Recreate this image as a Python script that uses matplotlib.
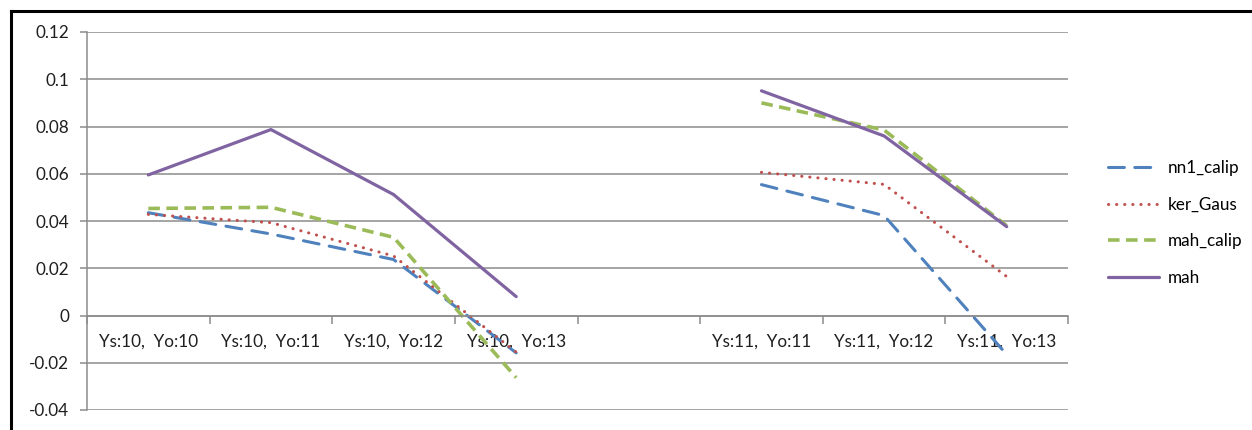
"""Line chart of calibration error per (Ys, Yo) pair for four estimators."""

import numpy as np
import matplotlib.pyplot as plt
from matplotlib.lines import Line2D

plt.rcParams['font.family'] = ['Lato', 'DejaVu Sans']

# categories along the x axis; the empty slot separates the two Ys groups
categories = ['Ys:10,  Yo:10', 'Ys:10,  Yo:11', 'Ys:10,  Yo:12', 'Ys:10,  Yo:13',
              '', 'Ys:11,  Yo:11', 'Ys:11,  Yo:12', 'Ys:11,  Yo:13']

nn1_calip = [0.0435, 0.0345, 0.0237, -0.0158, np.nan, 0.0554, 0.0423, -0.0165]
ker_gaus = [0.0428, 0.0393, 0.0252, -0.0155, np.nan, 0.0606, 0.0555, 0.0165]
mah_calip = [0.0453, 0.0458, 0.0331, -0.0263, np.nan, 0.0900, 0.0785, 0.0380]
mah = [0.0595, 0.0787, 0.0512, 0.0080, np.nan, 0.0951, 0.0760, 0.0376]

y_ticks = [-0.04, -0.02, 0, 0.02, 0.04, 0.06, 0.08, 0.1, 0.12]
y_tick_labels = ['-0.04', '-0.02', '0', '0.02', '0.04', '0.06', '0.08', '0.1', '0.12']

W, H = 1252, 430
FS = 12.3
fig = plt.figure(figsize=(W / 100, H / 100), dpi=100)

# chart border: left and top edges only, the rest runs off the image
border = dict(transform=fig.transFigure, color='black', lw=2.2,
              solid_capstyle='projecting')
fig.add_artist(Line2D([11 / W, 11 / W], [-0.02, 1 - 10.5 / H], **border))
fig.add_artist(Line2D([11 / W, 1.01], [1 - 10.5 / H, 1 - 10.5 / H], **border))

ax = fig.add_axes([87 / W, 1 - 410 / H, (1068 - 87) / W, (410 - 32) / H])

x = np.arange(len(categories))

ax.plot(x, nn1_calip, color='#4F81BD', lw=2.2, dashes=(5.2, 3.4),
        dash_capstyle='round', label='nn1_calip')
ax.plot(x, ker_gaus, color='#C0504D', lw=2.2, dashes=(0.05, 2.6),
        dash_capstyle='round', label='ker_Gaus')
ax.plot(x, mah_calip, color='#9BBB59', lw=2.6, dashes=(3.2, 1.8),
        label='mah_calip')
ax.plot(x, mah, color='#8064A2', lw=2.3, solid_capstyle='round', label='mah')

ax.set_xlim(-0.5, len(categories) - 0.5)
ax.set_ylim(-0.04, 0.12)

ax.set_yticks(y_ticks)
ax.set_yticklabels(y_tick_labels)
ax.yaxis.grid(True, color='#8c8c8c', lw=1.1)
ax.set_axisbelow(True)

# category labels sit at centers; tick marks sit on the boundaries
ax.set_xticks(x)
ax.set_xticklabels(categories)
ax.set_xticks(np.arange(len(categories) + 1) - 0.5, minor=True)
ax.tick_params(axis='x', which='major', length=0, pad=13, labelsize=FS,
               labelcolor='#1f1f1f')
ax.tick_params(axis='x', which='minor', length=6, width=1.1, color='#8c8c8c',
               direction='out')
ax.tick_params(axis='y', length=5, width=1.1, color='#8c8c8c', pad=8,
               labelsize=FS, labelcolor='#1f1f1f')

for side in ['top', 'right']:
    ax.spines[side].set_visible(False)
ax.spines['bottom'].set_position(('data', 0))
ax.spines['bottom'].set_color('#8c8c8c')
ax.spines['bottom'].set_linewidth(1.1)
ax.spines['left'].set_color('#8c8c8c')
ax.spines['left'].set_linewidth(1.1)

fig.legend(loc='center left', bbox_to_anchor=(1099 / W, 1 - 223 / H),
           bbox_transform=fig.transFigure, frameon=False, fontsize=FS,
           handlelength=3.0, handletextpad=0.5, labelspacing=1.2,
           borderpad=0)

fig.savefig('out.png', dpi=100)
